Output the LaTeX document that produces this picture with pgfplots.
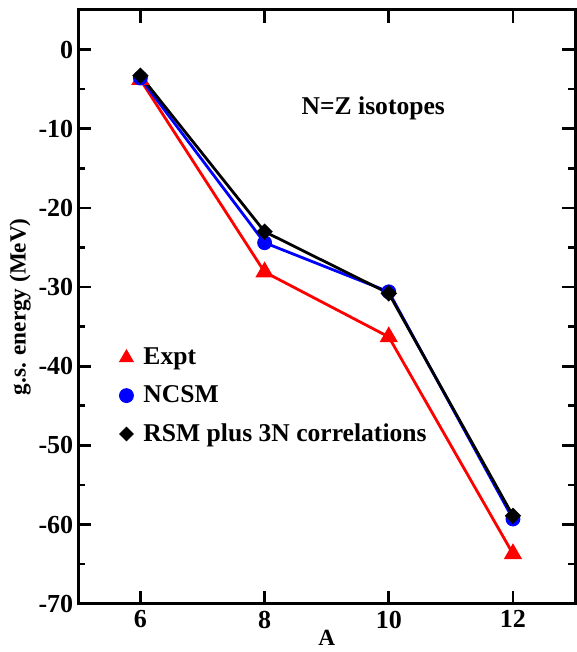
\documentclass[border=0pt]{standalone}
\usepackage{fontspec}
\setmainfont{Liberation Serif}
\usepackage{pgfplots}
\pgfplotsset{compat=1.18}

\begin{document}
\begin{tikzpicture}
\begin{axis}[
    width=248.5pt, height=297pt, scale only axis,
    xmin=5, xmax=13, ymin=-70, ymax=5,
    xtick={6,8,10,12},
    ytick={-70,-60,...,0},
    minor ytick={-65,-55,...,5},
    tick align=inside,
    major tick length=6.5pt, minor tick length=3.5pt,
    every tick/.style={line width=1.3pt, black},
    axis line style={line width=1.5pt},
    /pgf/number format/assume math mode=true,
    tick label style={font=\fontsize{13}{15}\selectfont\bfseries},
    yticklabel style={xshift=1pt},
    label style={font=\fontsize{11.6}{14}\selectfont\bfseries},
    xlabel={A}, ylabel={g.s. energy (MeV)},
    xlabel style={yshift=6pt},
    ylabel style={yshift=-3pt},
    legend style={draw=none, fill=none, at={(0.07,0.445)}, anchor=north west,
        font=\fontsize{12.8}{15}\selectfont\bfseries, row sep=5pt, column sep=3pt,
        legend cell align=left},
]
% Expt
\addplot[red, line width=1.4pt, mark=triangle*, mark size=3.9pt, forget plot]
  coordinates {(6,-3.8) (8,-28.1) (10,-36.3) (12,-63.7)};
% NCSM
\addplot[blue, line width=1.4pt, mark=*, mark size=3pt, forget plot]
  coordinates {(6,-3.6) (8,-24.4) (10,-30.6) (12,-59.3)};
% RSM plus 3N correlations
\addplot[black, line width=1.4pt, mark=square*, mark size=2.2pt,
  mark options={rotate=45}, forget plot]
  coordinates {(6,-3.3) (8,-23.0) (10,-30.8) (12,-58.9)};

\addlegendimage{only marks, red, mark=triangle*, mark size=4pt}
\addlegendentry{Expt}
\addlegendimage{only marks, blue, mark=*, mark size=3.5pt}
\addlegendentry{NCSM}
\addlegendimage{only marks, black, mark=square*, mark size=2.4pt, mark options={rotate=45}}
\addlegendentry{RSM plus 3N correlations}

\node[font=\fontsize{12.8}{15}\selectfont\bfseries] at (axis cs:9.75,-7.4) {N=Z isotopes};
\end{axis}
\path ([yshift=5pt]current axis.north);
\path ([xshift=-1.5pt]current bounding box.west);
\end{tikzpicture}
\end{document}
